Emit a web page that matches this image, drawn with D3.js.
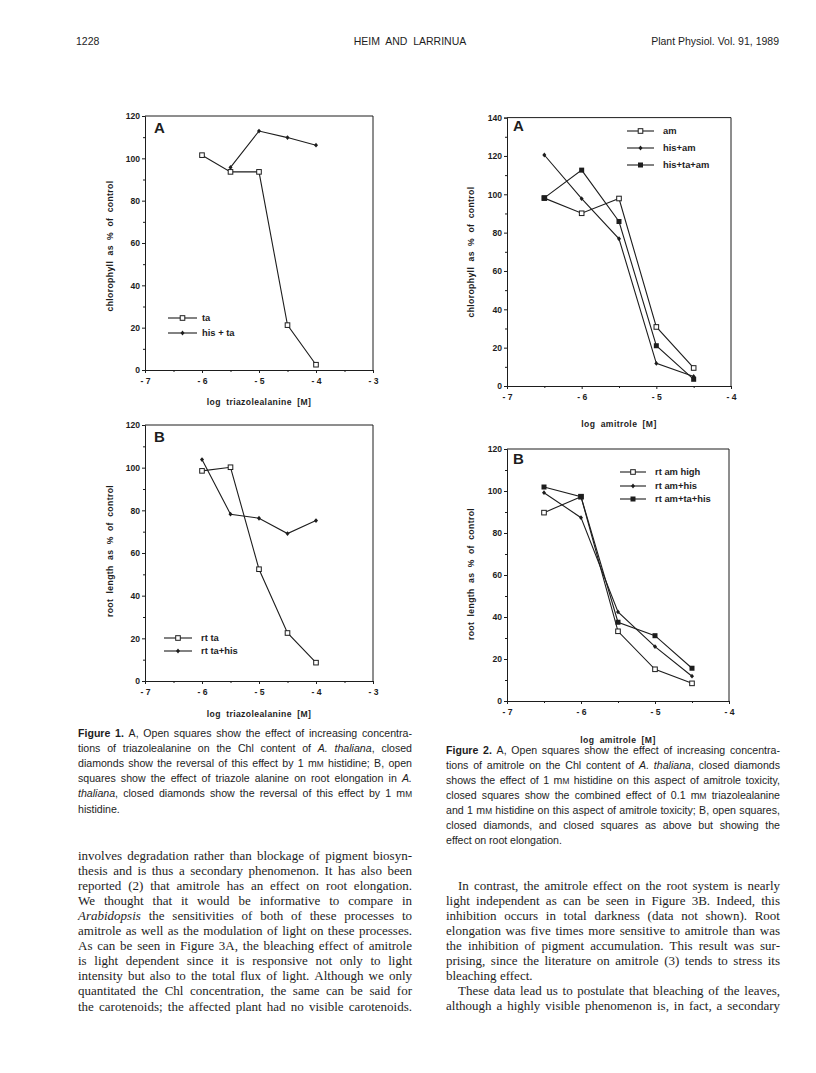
<!DOCTYPE html>
<html><head><meta charset="utf-8">
<script src="https://cdn.jsdelivr.net/npm/d3@7"></script>
<style>body{margin:0;background:#fff}svg{display:block}</style>
</head><body>
<svg id="page" width="816" height="1073"></svg>
<script>
// ---------- DATA ----------
// Figure 1 (x = log triazolealanine [M])
const fig1X = [-6, -5.5, -5, -4.5, -4];
const fig1HisX = [-5.5, -5, -4.5, -4];
const chlTa = [101.5, 93.6, 93.6, 21.2, 2.5];
const chlHisTa = [95.7, 112.9, 109.8, 106.2];
const rtTa = [98.5, 100.2, 52.4, 22.5, 8.6];
const rtTaHis = [103.8, 78.2, 76.3, 69.1, 75.2];
// Figure 2 (x = log amitrole [M])
const fig2X = [-6.5, -6, -5.5, -5, -4.5];
const chlAm = [98, 90.1, 97.8, 30.8, 9.4];
const chlHisAm = [120.5, 97.7, 76.8, 11.8, 5.0];
const chlHisTaAm = [98.1, 112.6, 85.8, 21.0, 3.5];
const rtAmHigh = [89.7, 97.3, 33.2, 15.1, 8.4];
const rtAmHis = [99.2, 87.3, 42.4, 25.9, 11.8];
const rtAmTaHis = [101.9, 97.3, 37.5, 31.1, 15.6];
// tick labels
const fig1XTicks = [-7, -6, -5, -4, -3];
const fig1XLabels = ["- 7", "- 6", "- 5", "- 4", "- 3"];
const fig2XTicks = [-7, -6, -5, -4];
const fig2XLabels = ["- 7", "- 6", "- 5", "- 4"];
const yTicks120 = [0, 20, 40, 60, 80, 100, 120];
const yTicks140 = [0, 20, 40, 60, 80, 100, 120, 140];

// ---------- DRAWING ----------
const ink = "#1d1d1d";
const svg = d3.select("#page");
svg.append("rect").attr("width", 816).attr("height", 1073).attr("fill", "#fff");

function marker(g, type, cx, cy) {
  if (type === "open") {
    g.append("rect").attr("x", cx - 2.3).attr("y", cy - 2.3).attr("width", 4.6).attr("height", 4.6)
      .attr("fill", "#fff").attr("stroke", ink).attr("stroke-width", 1);
  } else if (type === "filled") {
    g.append("rect").attr("x", cx - 2.5).attr("y", cy - 2.5).attr("width", 5).attr("height", 5).attr("fill", ink);
  } else {
    g.append("path").attr("d", `M${cx},${cy - 2.4}L${cx + 2},${cy}L${cx},${cy + 2.4}L${cx - 2},${cy}Z`).attr("fill", ink);
  }
}

function panel(c) {
  const x = d3.scaleLinear().domain(c.xd).range([c.l, c.r]);
  const y = d3.scaleLinear().domain(c.yd).range([c.b, c.t]);
  const g = svg.append("g");
  g.append("path").attr("d", `M${c.l},${c.t}H${c.r}V${c.b}`).attr("fill", "none")
    .attr("stroke", ink).attr("stroke-width", 1);
  const ya = g.append("g").attr("transform", `translate(${c.l},0)`)
    .call(d3.axisLeft(y).tickValues(c.yt).tickSize(3).tickPadding(2).tickFormat(d => d));
  const xa = g.append("g").attr("transform", `translate(0,${c.b})`)
    .call(d3.axisBottom(x).tickValues(c.xt).tickSize(3).tickPadding(5).tickFormat((d, i) => c.xl[i]));
  // minor ticks
  const yMinor = c.yt.slice(0, -1).map((v, i) => (v + c.yt[i + 1]) / 2);
  const xMinor = c.xt.slice(0, -1).map((v, i) => (v + c.xt[i + 1]) / 2);
  const ym = g.append("g").attr("transform", `translate(${c.l},0)`)
    .call(d3.axisLeft(y).tickValues(yMinor).tickSize(2).tickFormat(""));
  const xm = g.append("g").attr("transform", `translate(0,${c.b})`)
    .call(d3.axisBottom(x).tickValues(xMinor).tickSize(2).tickFormat(""));
  [ym, xm].forEach(a => a.select(".domain").remove());
  [ya, xa, ym, xm].forEach(a => {
    a.selectAll(".domain").attr("stroke", ink).attr("stroke-width", 1);
    a.selectAll("line").attr("stroke", ink);
    a.selectAll("text").attr("fill", ink).attr("font-family", "Liberation Sans, Arial, sans-serif")
      .attr("font-size", 8.6).attr("font-weight", "bold");
  });
  // series
  const line = d3.line().x(d => x(d[0])).y(d => y(d[1]));
  c.series.forEach(s => {
    const pts = s.x.map((v, i) => [v, s.y[i]]);
    g.append("path").attr("d", line(pts)).attr("fill", "none").attr("stroke", ink).attr("stroke-width", 1.1);
  });
  c.series.forEach(s => {
    s.x.forEach((v, i) => marker(g, s.m, x(v), y(s.y[i])));
  });
  // legend
  c.series.forEach((s, i) => {
    const ly = c.leg.y[i];
    g.append("line").attr("x1", c.leg.x1).attr("x2", c.leg.x2).attr("y1", ly).attr("y2", ly)
      .attr("stroke", ink).attr("stroke-width", 1.1);
    marker(g, s.m, (c.leg.x1 + c.leg.x2) / 2, ly);
    g.append("text").attr("x", c.leg.tx).attr("y", ly + 3.3).text(s.name)
      .attr("font-family", "Liberation Sans, Arial, sans-serif").attr("font-size", 9.4)
      .attr("font-weight", "bold").attr("fill", ink);
  });
  // panel letter
  g.append("text").attr("x", c.letter[1]).attr("y", c.letter[2]).text(c.letter[0])
    .attr("font-family", "Liberation Sans, Arial, sans-serif").attr("font-size", 15)
    .attr("font-weight", "bold").attr("fill", ink);
  // axis titles
  g.append("text").attr("x", (c.l + c.r) / 2).attr("y", c.xt_y).attr("text-anchor", "middle")
    .text(c.xTitle).attr("font-family", "Liberation Sans, Arial, sans-serif").attr("font-size", 8.6)
    .attr("font-weight", "bold").attr("fill", ink).attr("word-spacing", 2.5).attr("letter-spacing", 0.4);
  g.append("text").attr("transform", `translate(${c.yt_x},${c.yt_c}) rotate(-90)`).attr("text-anchor", "middle")
    .text(c.yTitle).attr("font-family", "Liberation Sans, Arial, sans-serif").attr("font-size", 8.6)
    .attr("font-weight", "bold").attr("fill", ink).attr("word-spacing", 2.5).attr("letter-spacing", 0.4);
}

panel({ l: 145, r: 373, t: 116, b: 370, xd: [-7, -3], yd: [0, 120], yt: yTicks120, xt: fig1XTicks, xl: fig1XLabels,
  series: [{ name: "ta", x: fig1X, y: chlTa, m: "open" }, { name: "his + ta", x: fig1HisX, y: chlHisTa, m: "diamond" }],
  leg: { x1: 168, x2: 197, tx: 202, y: [318, 333] }, letter: ["A", 154, 133],
  xTitle: "log triazolealanine [M]", xt_y: 405, yTitle: "chlorophyll as % of control", yt_x: 113, yt_c: 246 });

panel({ l: 145, r: 373, t: 425, b: 681, xd: [-7, -3], yd: [0, 120], yt: yTicks120, xt: fig1XTicks, xl: fig1XLabels,
  series: [{ name: "rt  ta", x: fig1X, y: rtTa, m: "open" }, { name: "rt  ta+his", x: fig1X, y: rtTaHis, m: "diamond" }],
  leg: { x1: 164, x2: 192, tx: 201, y: [638, 651] }, letter: ["B", 154, 442],
  xTitle: "log triazolealanine [M]", xt_y: 717, yTitle: "root length as % of control", yt_x: 113, yt_c: 551 });

panel({ l: 507, r: 731, t: 117.6, b: 386, xd: [-7, -4], yd: [0, 140], yt: yTicks140, xt: fig2XTicks, xl: fig2XLabels,
  series: [{ name: "am", x: fig2X, y: chlAm, m: "open" }, { name: "his+am", x: fig2X, y: chlHisAm, m: "diamond" },
           { name: "his+ta+am", x: fig2X, y: chlHisTaAm, m: "filled" }],
  leg: { x1: 627, x2: 654, tx: 663, y: [131, 148, 165] }, letter: ["A", 513, 131],
  xTitle: "log amitrole [M]", xt_y: 427, yTitle: "chlorophyll as % of control", yt_x: 474, yt_c: 252 });

panel({ l: 507, r: 729, t: 449, b: 701, xd: [-7, -4], yd: [0, 120], yt: yTicks120, xt: fig2XTicks, xl: fig2XLabels,
  series: [{ name: "rt am high", x: fig2X, y: rtAmHigh, m: "open" }, { name: "rt am+his", x: fig2X, y: rtAmHis, m: "diamond" },
           { name: "rt am+ta+his", x: fig2X, y: rtAmTaHis, m: "filled" }],
  leg: { x1: 620, x2: 646, tx: 655, y: [472, 486, 499] }, letter: ["B", 513, 464],
  xTitle: "log amitrole [M]", xt_y: 743, yTitle: "root length as % of control", yt_x: 474, yt_c: 574 });

// ---------- TEXT ----------
const headerLeft = "1228", headerMid = "HEIM  AND  LARRINUA", headerRight = "Plant Physiol. Vol. 91, 1989";
const hdr = (t, x, a) => svg.append("text").attr("x", x).attr("y", 45).attr("text-anchor", a).text(t)
  .attr("font-family", "Liberation Sans, Arial, sans-serif").attr("font-size", 10.5).attr("fill", ink)
  .attr("xml:space", "preserve").style("white-space", "pre");
hdr(headerLeft, 76, "start"); hdr(headerMid, 410, "middle"); hdr(headerRight, 779, "end");

function block(lines, x0, width, y0, lh, family, size) {
  lines.forEach((ln, li) => {
    const s = ln.s, justify = ln.j !== false, indent = ln.ind || 0;
    const tokens = s.split(/(\*\*.+?\*\*|\*.+?\*|\{M\})/).filter(t => t !== "");
    const words = [[]];
    tokens.forEach(tk => {
      let st = "n", t = tk;
      if (tk.startsWith("**")) { st = "b"; t = tk.slice(2, -2); }
      else if (tk === "{M}") { st = "sc"; t = "M"; }
      else if (tk.startsWith("*")) { st = "i"; t = tk.slice(1, -1); }
      const parts = t.split(" ");
      parts.forEach((p, j) => {
        if (j > 0) words.push([]);
        if (p !== "") words[words.length - 1].push({ t: p, st });
      });
    });
    const ws = words.filter(w => w.length);
    const te = svg.append("text").attr("y", y0 + li * lh).attr("font-family", family)
      .attr("font-size", size).attr("fill", ink);
    const wEls = ws.map(w => w.map(p => {
      const sp = te.append("tspan").text(p.t);
      if (p.st === "b") sp.attr("font-weight", "bold");
      if (p.st === "i") sp.attr("font-style", "italic");
      if (p.st === "sc") sp.attr("font-size", size * 0.78);
      return sp;
    }));
    const widths = wEls.map(w => d3.sum(w, sp => sp.node().getComputedTextLength()));
    const total = d3.sum(widths);
    const avail = width - indent;
    const gap = (justify && ws.length > 1) ? (avail - total) / (ws.length - 1) : size * 0.26;
    let cx = x0 + indent;
    wEls.forEach((w, i) => { w[0].attr("x", cx); cx += widths[i] + gap; });
  });
}

const serif = "Liberation Serif, Times New Roman, serif";
const sans = "Liberation Sans, Arial, sans-serif";
const colL = 78, colR = 446, colW = 334;

const cap1 = [
  { s: "**Figure 1.**  A, Open squares show the effect of increasing concentra-" },
  { s: "tions of triazolealanine on the Chl content of *A. thaliana*, closed" },
  { s: "diamonds show the reversal of this effect by 1 m{M} histidine; B, open" },
  { s: "squares show the effect of triazole alanine on root elongation in *A.*" },
  { s: "*thaliana*, closed diamonds show the reversal of this effect by 1 m{M}" },
  { s: "histidine.", j: false }
];
const cap2 = [
  { s: "**Figure 2.**  A, Open squares show the effect of increasing concentra-" },
  { s: "tions of amitrole on the Chl content of *A. thaliana*, closed diamonds" },
  { s: "shows the effect of 1 m{M} histidine on this aspect of amitrole toxicity," },
  { s: "closed squares show the combined effect of 0.1 m{M} triazolealanine" },
  { s: "and 1 m{M} histidine on this aspect of amitrole toxicity; B, open squares," },
  { s: "closed diamonds, and closed squares as above but showing the" },
  { s: "effect on root elongation.", j: false }
];
const bodyL = [
  { s: "involves degradation rather than blockage of pigment biosyn-" },
  { s: "thesis and is thus a secondary phenomenon. It has also been" },
  { s: "reported (2) that amitrole has an effect on root elongation." },
  { s: "We thought that it would be informative to compare in" },
  { s: "*Arabidopsis* the sensitivities of both of these processes to" },
  { s: "amitrole as well as the modulation of light on these processes." },
  { s: "As can be seen in Figure 3A, the bleaching effect of amitrole" },
  { s: "is light dependent since it is responsive not only to light" },
  { s: "intensity but also to the total flux of light. Although we only" },
  { s: "quantitated the Chl concentration, the same can be said for" },
  { s: "the carotenoids; the affected plant had no visible carotenoids." }
];
const bodyR = [
  { s: "In contrast, the amitrole effect on the root system is nearly", ind: 12 },
  { s: "light independent as can be seen in Figure 3B. Indeed, this" },
  { s: "inhibition occurs in total darkness (data not shown). Root" },
  { s: "elongation was five times more sensitive to amitrole than was" },
  { s: "the inhibition of pigment accumulation. This result was sur-" },
  { s: "prising, since the literature on amitrole (3) tends to stress its" },
  { s: "bleaching effect.", j: false },
  { s: "These data lead us to postulate that bleaching of the leaves,", ind: 12 },
  { s: "although a highly visible phenomenon is, in fact, a secondary" }
];
block(cap1, colL, colW, 737, 15.1, sans, 10.6);
block(cap2, colR, colW, 754, 15.0, sans, 10.6);
block(bodyL, colL, colW, 860, 15.05, serif, 13);
block(bodyR, colR, colW, 890, 15.05, serif, 13);
</script>
</body></html>
